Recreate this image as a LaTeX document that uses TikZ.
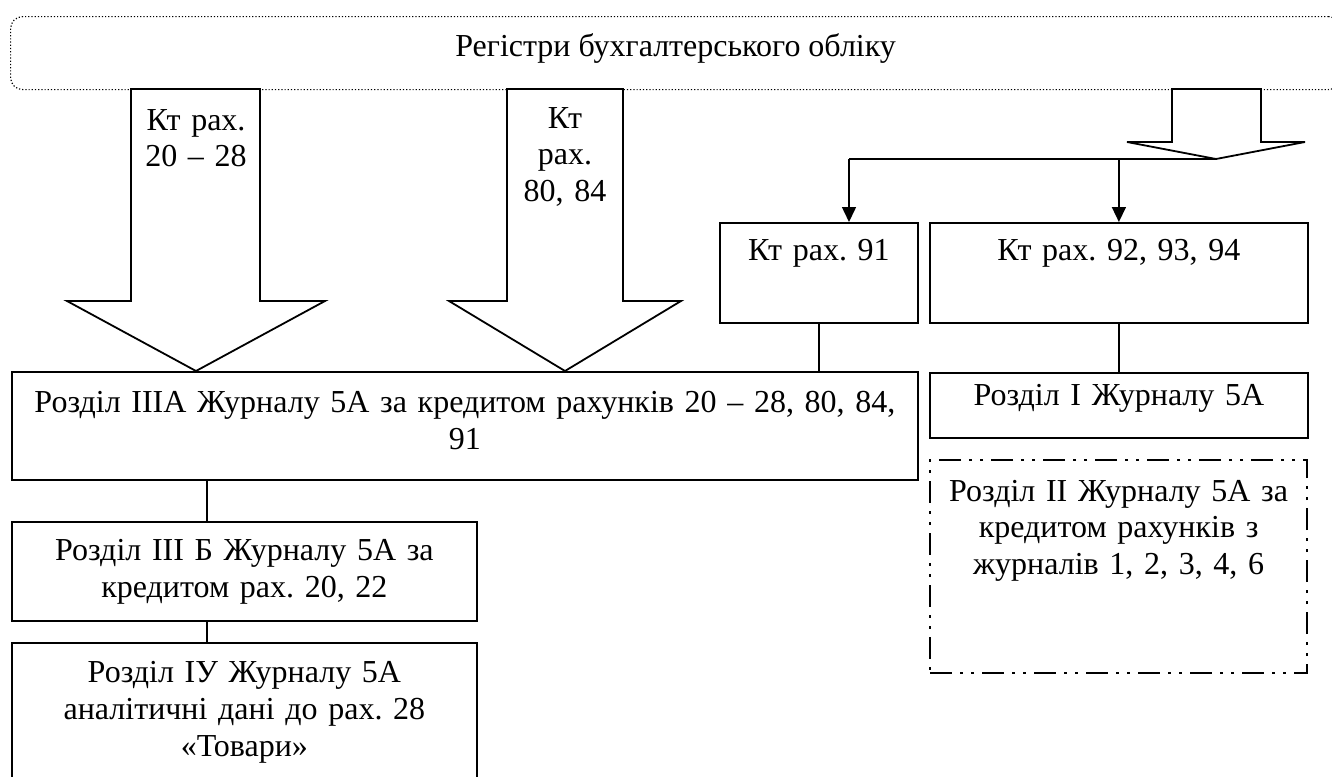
\documentclass[tikz,border=0pt]{standalone}
\usepackage{fontspec}
\setmainfont{Liberation Serif}
\usepackage{tikz}
\usetikzlibrary{arrows.meta, positioning}
\frenchspacing

\begin{document}
\begin{tikzpicture}[
    x=0.5pt, y=-0.5pt,
    font=\fontsize{16pt}{18.4pt}\selectfont,
    regbox/.style={draw, line width=0.6pt, dash pattern=on 0.6pt off 1pt, rounded corners=6pt, anchor=north west, inner sep=0pt, minimum width=665pt, text height=20pt, text depth=16.5pt},
    stepbox/.style={draw, line width=0.9pt, anchor=north west, inner sep=0pt, align=center},
    dashdot/.style={line width=1.1pt, dash pattern=on 11pt off 4pt on 1.5pt off 4pt on 1.5pt off 4pt},
    bigarrow/.style={draw, fill=white, line width=0.9pt, line join=miter},
    txt/.style={anchor=base, inner sep=0pt, align=center, text width=60pt},
    link/.style={line width=0.75pt},
    arrow/.style={line width=0.75pt, -{Triangle[length=7.5pt, width=7pt]}}
]
    \useasboundingbox (0,0) rectangle (1332,776);

    % registers
    \node[regbox] (reg) at (10,16) {Регістри бухгалтерського обліку};

    % block arrows
    \draw[bigarrow] (131,89) -- (131,301) -- (67,301) -- (196,371) -- (325,301) -- (260,301) -- (260,89) -- cycle;
    \draw[bigarrow] (507,89) -- (507,301) -- (449,301) -- (565,371) -- (681,301) -- (623,301) -- (623,89) -- cycle;
    \draw[bigarrow] (1172,89) -- (1172,142) -- (1127,142) -- (1216,159) -- (1305,142) -- (1261,142) -- (1261,89) -- cycle;
    \coordinate (tip3) at (1216,159);
    \node[txt] (a1) at (196,130) {Кт рах.\\20 – 28};
    \node[txt] (a2) at (565,128) {Кт\\рах.\\80, 84};

    % boxes
    \node[stepbox, text width=453pt, text height=20.5pt, text depth=33.5pt] (main) at (11,371) {Розділ ІІІА Журналу 5А за кредитом рахунків 20 – 28, 80, 84,\\91};
    \node[stepbox, text width=99pt, text height=19pt, text depth=31pt] (k91) at (719,222) {Кт рах. 91};
    \node[stepbox, text width=189pt, text height=19pt, text depth=31pt] (k92) at (929,222) {Кт рах. 92, 93, 94};
    \node[stepbox, text width=189pt, text height=16.5pt, text depth=16pt] (r1) at (929,372) {Розділ І Журналу 5А};
    \node[stepbox, dashdot, text width=188.5pt, text height=20.5pt, text depth=86pt] (r2) at (929,459) {Розділ ІІ Журналу 5А за\\кредитом рахунків з\\журналів 1, 2, 3, 4, 6};
    \node[stepbox, text width=232.5pt, text height=19.5pt, text depth=30pt] (r3b) at (11,521) {Розділ ІІІ Б Журналу 5А за\\кредитом рах. 20, 22};
    \node[stepbox, text width=232.5pt, text height=20pt, text depth=50pt] (r4) at (11,642) {Розділ ІУ Журналу 5А\\аналітичні дані до рах. 28\\«Товари»};

    % connectors
    \coordinate (split) at (849,159);
    \coordinate (drop) at (207,0);
    \draw[link] (tip3) -- (split);
    \draw[arrow] (split) -- (split |- k91.north);
    \draw[arrow] (tip3 -| k92.north) -- (k92.north);
    \draw[link] (k91.south) -- (k91.south |- main.north);
    \draw[link] (k92.south) -- (r1.north);
    \draw[link] (main.south -| drop) -- (r3b.north -| drop);
    \draw[link] (r3b.south -| drop) -- (r4.north -| drop);
\end{tikzpicture}
\end{document}
